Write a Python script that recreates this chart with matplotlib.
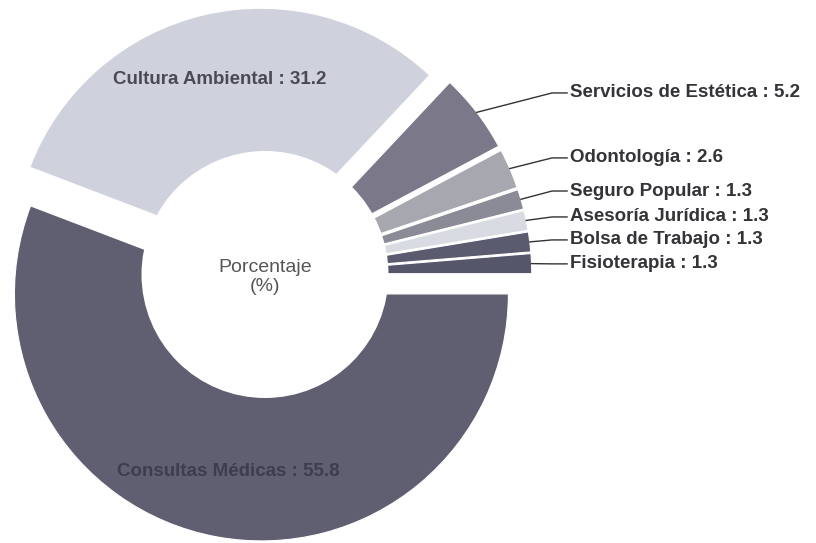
import numpy as np
import matplotlib
matplotlib.use("Agg")
import matplotlib.pyplot as plt
from matplotlib.patches import Circle

plt.rcParams['font.family'] = ['Liberation Sans', 'DejaVu Sans']

# slices in drawing order (counter-clockwise from 3 o'clock)
names = ["Fisioterapia", "Bolsa de Trabajo", "Asesoría Jurídica", "Seguro Popular",
         "Odontología", "Servicios de Estética", "Cultura Ambiental", "Consultas Médicas"]
values = [1.3, 1.3, 1.3, 1.3, 2.6, 5.2, 31.2, 55.8]
colors = ["#55566a", "#5b5b70", "#d9dbe3", "#8b8b97", "#a7a7b0", "#7a7889", "#cfd2dc", "#5f5f71"]

# label heights for the small slices on the right (data units)
side_y = {"Fisioterapia": 0.043, "Bolsa de Trabajo": 0.140, "Asesoría Jurídica": 0.233,
          "Seguro Popular": 0.338, "Odontología": 0.472, "Servicios de Estética": 0.735}
inside = {"Cultura Ambiental": "#4a4a56", "Consultas Médicas": "#3d3d4d"}

fig = plt.figure(figsize=(8.16, 5.43), dpi=100)
ax = fig.add_axes([0, 0, 1, 1])

wedges, _ = ax.pie(values, colors=colors, startangle=0, counterclock=True,
                   explode=[0.08] * len(values), radius=1.0,
                   wedgeprops=dict(edgecolor="white", linewidth=0.8))

# white hole in the middle
ax.add_patch(Circle((0, 0), 0.5, facecolor="white", edgecolor="none", zorder=3))
ax.text(0, 0.03, "Porcentaje", ha="center", va="center", fontsize=14, color="#555555", zorder=4)
ax.text(0, -0.05, "(%)", ha="center", va="center", fontsize=14, color="#555555", zorder=4)

for w, name, v in zip(wedges, names, values):
    tm = np.deg2rad((w.theta1 + w.theta2) / 2)
    cx, cy = w.center
    lab = f"{name} : {v:.1f}"
    if name in inside:
        ax.text(cx + 0.73 * np.cos(tm), cy + 0.73 * np.sin(tm), lab, ha="center", va="center",
                fontsize=13.5, fontweight="bold", color=inside[name], zorder=4)
    else:
        ly = side_y[name]
        x0, y0 = cx + 1.0 * np.cos(tm), cy + 1.0 * np.sin(tm)
        ax.plot([x0, 1.162, 1.223], [y0, ly, ly], color="#333333", lw=1.0, zorder=4)
        ax.text(1.235, ly, lab, ha="left", va="center", fontsize=13.5,
                fontweight="bold", color="#333338", zorder=4)

ax.set_xlim(-265 / 247, 551 / 247)
ax.set_ylim(-268.5 / 247, 274.5 / 247)
ax.set_aspect("equal")
ax.axis("off")

fig.savefig("out.png", dpi=100, facecolor="white")
